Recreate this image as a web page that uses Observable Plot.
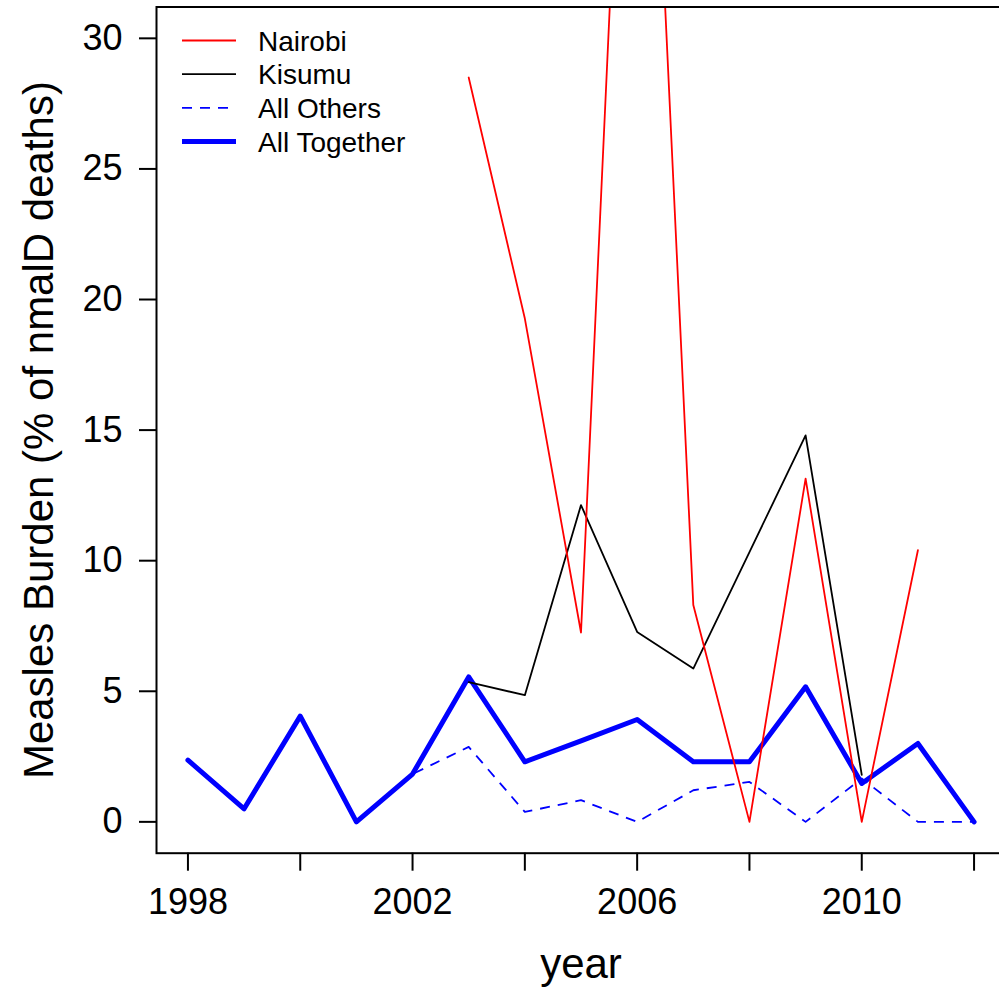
<!DOCTYPE html>
<html><head><meta charset="utf-8">
<script src="https://cdn.jsdelivr.net/npm/d3@7"></script>
<script src="https://cdn.jsdelivr.net/npm/@observablehq/plot@0.6"></script>
<style>
html,body{margin:0;padding:0;background:#fff;overflow:hidden;}
#wrap{position:relative;width:999px;height:987px;overflow:hidden;background:#fff;}
#legend{position:absolute;left:0;top:0;pointer-events:none;}
</style></head><body><div id="wrap"></div>
<script>
// ---- data ----
const years = [1998,1999,2000,2001,2002,2003,2004,2005,2006,2007,2008,2009,2010,2011,2012];
const allTogether = [2.36,0.5,4.05,0,1.83,5.55,2.3,3.1,3.92,2.3,2.3,5.17,1.47,3.0,0];
const allOthers   = [2.36,0.5,4.05,0,1.83,2.87,0.38,0.83,0,1.21,1.53,0,1.66,0,0];
const kisumuYears = [2003,2004,2005,2006,2007,2008,2009,2010];
const kisumu      = [5.35,4.85,12.13,7.27,5.87,10.33,14.8,1.8];
const nairobiYears = [2003,2004,2005,2006,2007,2008,2009,2010,2011];
const nairobi      = [28.5,19.27,7.25,54,8.3,0,13.14,0,10.4];
const xTicks = [1998,2000,2002,2004,2006,2008,2010,2012];
const xTickLabels = [1998,2002,2006,2010];
const yTicks = [0,5,10,15,20,25,30];
const xTitle = "year";
const yTitle = "Measles Burden (% of nmalD deaths)";
const legendLabels = ["Nairobi","Kisumu","All Others","All Together"];

const FONT = "'Liberation Sans', Arial, Helvetica, sans-serif";
const toRows = (xs, ys) => xs.map((x, i) => ({year: x, value: ys[i]}));

const chart = Plot.plot({
  width: 1006, height: 987,
  marginLeft: 156, marginRight: 1, marginTop: 6.5, marginBottom: 134.3,
  style: {fontFamily: FONT, fontSize: "36px", maxWidth: "none", background: "white", color: "black"},
  x: {domain: [1997.44, 2012.56]},
  y: {domain: [-1.2, 31.2]},
  marks: [
    Plot.axisX({ticks: xTicks, tickFormat: d => xTickLabels.includes(d) ? String(d) : "", tickSize: 18, tickPadding: 17, strokeWidth: 2, fontSize: 36, label: null}),
    Plot.axisY({ticks: yTicks, tickFormat: d => String(d), tickSize: 17, tickPadding: 17, strokeWidth: 2, fontSize: 36, label: null}),
    Plot.line(toRows(years, allTogether), {x: "year", y: "value", stroke: "#0000ff", strokeWidth: 5, clip: true}),
    Plot.line(toRows(years, allOthers), {x: "year", y: "value", stroke: "#0000ff", strokeWidth: 1.8, strokeDasharray: "10,8", strokeLinecap: "butt", clip: true}),
    Plot.line(toRows(kisumuYears, kisumu), {x: "year", y: "value", stroke: "#000000", strokeWidth: 1.8, clip: true}),
    Plot.line(toRows(nairobiYears, nairobi), {x: "year", y: "value", stroke: "#ff0000", strokeWidth: 1.8, clip: true}),
    Plot.frame({stroke: "black", strokeWidth: 2}),
    Plot.text([xTitle], {frameAnchor: "bottom", text: d => d, dy: 125, lineAnchor: "bottom", fontSize: 42, fill: "black"}),
    Plot.text([yTitle], {frameAnchor: "left", text: d => d, rotate: -90, dx: -104, lineAnchor: "bottom", textAnchor: "middle", fontSize: 42, fill: "black"})
  ]
});
const wrap = document.getElementById("wrap");
wrap.appendChild(chart);

// ---- legend overlay (R-style, inside the plot region) ----
const legendStyles = [
  {stroke: "#ff0000", width: 1.8, dash: null},
  {stroke: "#000000", width: 1.8, dash: null},
  {stroke: "#0000ff", width: 1.8, dash: "10,8"},
  {stroke: "#0000ff", width: 5, dash: null}
];
const lg = d3.select(wrap).append("svg").attr("id", "legend").attr("width", 460).attr("height", 180);
legendLabels.forEach((lab, i) => {
  const cy = 40.5 + i * 33.7;
  const st = legendStyles[i];
  const ln = lg.append("line").attr("x1", 182).attr("x2", 236).attr("y1", cy).attr("y2", cy)
    .attr("stroke", st.stroke).attr("stroke-width", st.width);
  if (st.dash) ln.attr("stroke-dasharray", st.dash);
  lg.append("text").attr("x", 258).attr("y", cy + 10).attr("font-family", FONT).attr("font-size", 28)
    .attr("fill", "black").text(lab);
});
</script></body></html>
